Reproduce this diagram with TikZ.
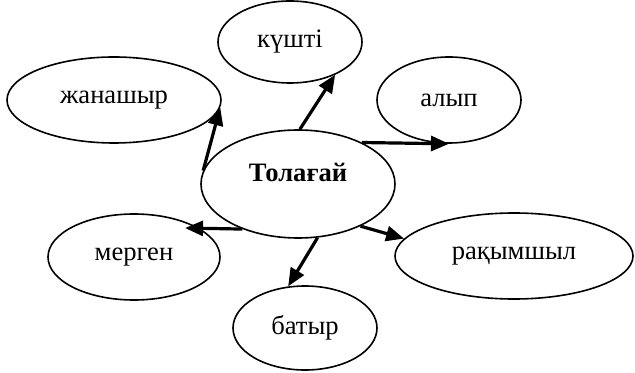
\documentclass[tikz,border=0pt]{standalone}
\usepackage{fontspec}
\setmainfont{Liberation Serif}
\usetikzlibrary{shapes.geometric,arrows.meta}
\begin{document}
\begin{tikzpicture}[x=.5pt,y=-.5pt,>={Triangle[length=9pt,width=7.5pt]},font=\fontsize{13.3}{15}\selectfont]
	\tikzset{oval/.style={draw,ellipse,inner sep=0pt,line width=.8pt}}
	\useasboundingbox (0,0) rectangle (635,373);
	%===========================================
	\node[oval,minimum width=97pt,minimum height=54pt,
		label={[yshift=6pt]center:\textbf{Толағай}}] (tol) at (298,184) {};
	\node[oval,minimum width=72pt,minimum height=41pt] (kushti) at (290,42) {күшті};
	\node[oval,minimum width=107pt,minimum height=43pt] (zhan) at (114,100) {жанашыр};
	\node[oval,minimum width=72pt,minimum height=43pt] (alyp) at (449,100) {алып};
	\node[oval,minimum width=86pt,minimum height=43pt] (mergen) at (134,257) {мерген};
	\node[oval,minimum width=72pt,minimum height=42pt] (batyr) at (305,328) {батыр};
	\node[oval,minimum width=119pt,minimum height=43pt] (rakym) at (514,256) {рақымшыл};
	%===========================================
	\foreach \s/\t in {172/zhan.-4,88/kushti.-36,33/alyp.-90,-34/rakym.171,-70/batyr.112}
		\draw[->,line width=1.6pt] (tol.\s)--(\t);
	\draw[->,line width=1.6pt] (tol.-141)--([xshift=-7pt]mergen.24);
\end{tikzpicture}
\end{document}
